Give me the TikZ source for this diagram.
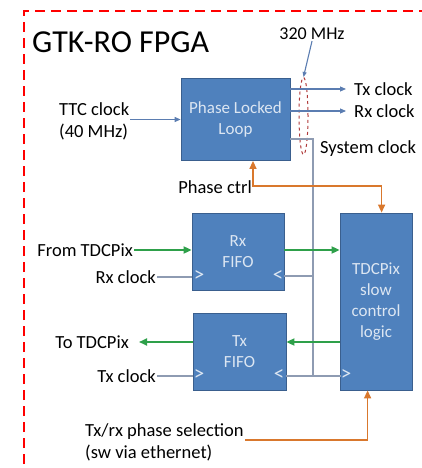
\documentclass[tikz,border=0pt]{standalone}
\usepackage{fontspec}
\setmainfont{Carlito}
\usepackage{xcolor}
\usepackage{tikz}
\usetikzlibrary{positioning, arrows.meta, shapes.geometric}

\definecolor{blockfill}{HTML}{4F81BD}
\definecolor{blockedge}{HTML}{3A5F8E}
\definecolor{blocktext}{HTML}{DCE6F2}
\definecolor{datagreen}{HTML}{2EA04A}
\definecolor{ctrlorange}{HTML}{D9782D}
\definecolor{clkgray}{HTML}{8E9BB2}
\definecolor{clkblue}{HTML}{5B7DB1}
\definecolor{tapred}{HTML}{B03A3A}

\begin{document}
\begin{tikzpicture}[x=1pt, y=-1pt, font=\fontsize{18.5}{22}\selectfont,
    block/.style={draw=blockedge, fill=blockfill, text=blocktext, align=center, line width=0.8pt, inner sep=0pt, font=\fontsize{17}{21}\selectfont},
    lbl/.style={inner sep=1pt, align=left},
    tick/.style={text=blocktext, inner sep=0pt, font=\fontsize{21}{21}\selectfont},
    clk/.style={draw=clkgray, line width=1.1pt},
    clkout/.style={draw=clkblue, line width=1.1pt, -{Triangle[length=6pt, width=5pt]}},
    data/.style={draw=datagreen, line width=1.8pt, -{Triangle[length=8pt, width=7pt]}},
    ctrl/.style={draw=ctrlorange, line width=1.4pt, -{Triangle[length=8pt, width=7pt]}}]

    \useasboundingbox (0,0) rectangle (421,468);

    % FPGA frame
    \draw[red, line width=2.6pt, dash pattern=on 10pt off 6pt] (24,480) -- (24,11) -- (430,11);
    \node[lbl, anchor=west, font=\fontsize{32}{34}\selectfont] (title) at (31,42) {GTK-RO FPGA};

    % blocks
    \node[block, minimum width=109pt, minimum height=82pt] (pll) at (235.5,119.5) {Phase Locked\\Loop};
    \node[block, minimum width=92pt, minimum height=77pt] (rxfifo) at (238,251.5) {Rx\\FIFO};
    \node[block, minimum width=93pt, minimum height=77pt] (txfifo) at (239.5,351.5) {Tx\\FIFO};
    \node[block, minimum width=72pt, minimum height=177pt] (slow) at (376,301.5) {TDCPix\\slow\\control\\logic};

    % clock inputs marks
    \node[tick] (rxin) at (199,276) {>};
    \node[tick] (rxbk) at (278,276) {<};
    \node[tick] (txin) at (199,375) {>};
    \node[tick] (txbk) at (279,375) {<};
    \node[tick] (slin) at (346,375) {>};

    % labels
    \node[lbl, anchor=center, font=\fontsize{18}{20}\selectfont] (mhz) at (312,34) {320 MHz};
    \node[lbl, anchor=west] (ttc) at (58,121) {TTC clock\\(40 MHz)};
    \node[lbl, anchor=west] (txout) at (353,89) {Tx clock};
    \node[lbl, anchor=west] (rxout) at (353,111) {Rx clock};
    \node[lbl, anchor=west] (sysclk) at (319,149) {System clock};
    \node[lbl, anchor=east] (phasectrl) at (253,187) {Phase ctrl};
    \node[lbl, anchor=east] (fromtdc) at (134,250) {From TDCPix};
    \node[lbl, anchor=east] (rxclk) at (157,277) {Rx clock};
    \node[lbl, anchor=east] (totdc) at (130,342) {To TDCPix};
    \node[lbl, anchor=east] (txclk) at (157,376) {Tx clock};
    \node[lbl, anchor=west] (phasesel) at (84,442) {Tx/rx phase selection\\(sw via ethernet)};

    % 320 MHz tap
    \node[draw=tapred, dashed, line width=1pt, ellipse, minimum width=9pt, minimum height=77pt, inner sep=0pt] (tap) at (303.5,116) {};
    \draw[clkout, -{Triangle[length=5pt, width=4pt]}] (mhz.south) -- (tap.north);

    % PLL clocks
    \draw[clkout] (ttc.east |- pll.west) -- (pll.west);
    \draw[clkout, shorten >=7pt] (pll.east |- txout) -- (txout.west);
    \draw[clkout, shorten >=7pt] (pll.east |- rxout) -- (rxout.west);
    \coordinate (bustop) at (313,139);
    \coordinate (busbot) at (313,376);
    \draw[clk] (pll.east |- bustop) -- (bustop) -- (busbot) -- (slin.west |- busbot);
    \draw[clk] (bustop |- rxbk) -- (rxfifo.east |- rxbk);
    \draw[clk] (busbot) -- (txfifo.east |- busbot);
    \draw[clk] (rxclk.east) -- (rxfifo.west |- rxclk);
    \draw[clk] (txclk.east) -- (txfifo.west |- txclk);

    % data
    \draw[data] (fromtdc.east) -- (rxfifo.west |- fromtdc);
    \draw[data] (rxfifo.east |- fromtdc) -- (slow.west |- fromtdc);
    \draw[data] (slow.west |- totdc) -- (txfifo.east |- totdc);
    \draw[data, shorten >=9pt] (txfifo.west |- totdc) -- (totdc.east);

    % control
    \draw[ctrl, {Triangle[length=8pt, width=7pt]}-{Triangle[length=8pt, width=7pt]}]
        (pll.south -| phasectrl.east) -- ([yshift=1pt]phasectrl.east) -| ([xshift=42pt]slow.north west);
    \draw[ctrl] ([yshift=2pt]phasesel.east) -| ([xshift=28pt]slow.south west);
\end{tikzpicture}
\end{document}
